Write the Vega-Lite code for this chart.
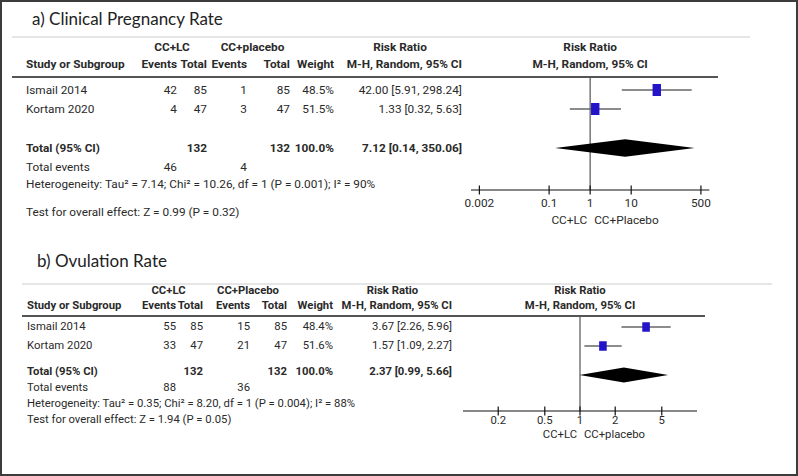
{
"$schema":"https://vega.github.io/schema/vega-lite/v6.json",
"width":798,"height":476,"autosize":{"type":"none"},"padding":0,
"background":"white",
"view":{"stroke":"#3c3c3c","strokeWidth":4,"fill":"white"},
"config":{"text":{"font":"Roboto, Liberation Sans, sans-serif","fontSize":11.8,"color":"#2a2a2a","baseline":"middle"}},
"datasets":{
"cells":[
{"row":0,"col":13,"part":"title","text":"a) Clinical Pregnancy Rate"},
{"row":2,"col":1,"part":"group","text":"CC+LC"},
{"row":2,"col":5,"part":"group","text":"CC+placebo"},
{"row":2,"col":8,"part":"group","text":"Risk Ratio"},
{"row":3,"col":0,"part":"header","text":"Study or Subgroup"},
{"row":3,"col":2,"part":"header","text":"Events"},
{"row":3,"col":3,"part":"header","text":"Total"},
{"row":3,"col":4,"part":"header","text":"Events"},
{"row":3,"col":6,"part":"header","text":"Total"},
{"row":3,"col":7,"part":"header","text":"Weight"},
{"row":3,"col":9,"part":"header","text":"M-H, Random, 95% CI"},
{"row":5,"col":0,"part":"study","text":"Ismail 2014"},
{"row":5,"col":2,"part":"study","text":"42"},
{"row":5,"col":3,"part":"study","text":"85"},
{"row":5,"col":4,"part":"study","text":"1"},
{"row":5,"col":6,"part":"study","text":"85"},
{"row":5,"col":7,"part":"study","text":"48.5%"},
{"row":5,"col":9,"part":"study","text":"42.00 [5.91, 298.24]"},
{"row":6,"col":0,"part":"study","text":"Kortam 2020"},
{"row":6,"col":2,"part":"study","text":"4"},
{"row":6,"col":3,"part":"study","text":"47"},
{"row":6,"col":4,"part":"study","text":"3"},
{"row":6,"col":6,"part":"study","text":"47"},
{"row":6,"col":7,"part":"study","text":"51.5%"},
{"row":6,"col":9,"part":"study","text":"1.33 [0.32, 5.63]"},
{"row":7,"col":0,"part":"total","text":"Total (95% CI)"},
{"row":7,"col":3,"part":"total","text":"132"},
{"row":7,"col":6,"part":"total","text":"132"},
{"row":7,"col":7,"part":"total","text":"100.0%"},
{"row":7,"col":9,"part":"total","text":"7.12 [0.14, 350.06]"},
{"row":8,"col":0,"part":"note","text":"Total events"},
{"row":8,"col":2,"part":"note","text":"46"},
{"row":8,"col":4,"part":"note","text":"4"},
{"row":9,"col":0,"part":"note","text":"Heterogeneity: Tau² = 7.14; Chi² = 10.26, df = 1 (P = 0.001); I² = 90%"},
{"row":12,"col":0,"part":"note","text":"Test for overall effect: Z = 0.99 (P = 0.32)"},
{"row":20,"col":33,"part":"title","text":"b) Ovulation Rate"},
{"row":22,"col":21,"part":"group","text":"CC+LC"},
{"row":22,"col":25,"part":"group","text":"CC+Placebo"},
{"row":22,"col":28,"part":"group","text":"Risk Ratio"},
{"row":23,"col":20,"part":"header","text":"Study or Subgroup"},
{"row":23,"col":22,"part":"header","text":"Events"},
{"row":23,"col":23,"part":"header","text":"Total"},
{"row":23,"col":24,"part":"header","text":"Events"},
{"row":23,"col":26,"part":"header","text":"Total"},
{"row":23,"col":27,"part":"header","text":"Weight"},
{"row":23,"col":29,"part":"header","text":"M-H, Random, 95% CI"},
{"row":25,"col":20,"part":"study","text":"Ismail 2014"},
{"row":25,"col":22,"part":"study","text":"55"},
{"row":25,"col":23,"part":"study","text":"85"},
{"row":25,"col":24,"part":"study","text":"15"},
{"row":25,"col":26,"part":"study","text":"85"},
{"row":25,"col":27,"part":"study","text":"48.4%"},
{"row":25,"col":29,"part":"study","text":"3.67 [2.26, 5.96]"},
{"row":26,"col":20,"part":"study","text":"Kortam 2020"},
{"row":26,"col":22,"part":"study","text":"33"},
{"row":26,"col":23,"part":"study","text":"47"},
{"row":26,"col":24,"part":"study","text":"21"},
{"row":26,"col":26,"part":"study","text":"47"},
{"row":26,"col":27,"part":"study","text":"51.6%"},
{"row":26,"col":29,"part":"study","text":"1.57 [1.09, 2.27]"},
{"row":27,"col":20,"part":"total","text":"Total (95% CI)"},
{"row":27,"col":23,"part":"total","text":"132"},
{"row":27,"col":26,"part":"total","text":"132"},
{"row":27,"col":27,"part":"total","text":"100.0%"},
{"row":27,"col":29,"part":"total","text":"2.37 [0.99, 5.66]"},
{"row":28,"col":20,"part":"note","text":"Total events"},
{"row":28,"col":22,"part":"note","text":"88"},
{"row":28,"col":24,"part":"note","text":"36"},
{"row":29,"col":20,"part":"note","text":"Heterogeneity: Tau² = 0.35; Chi² = 8.20, df = 1 (P = 0.004); I² = 88%"},
{"row":32,"col":20,"part":"note","text":"Test for overall effect: Z = 1.94 (P = 0.05)"}
],
"studies":[
{"panel":"a","study":"Ismail 2014","row":5,"rr":42.00,"lo":5.91,"hi":298.24},
{"panel":"a","study":"Kortam 2020","row":6,"rr":1.33,"lo":0.32,"hi":5.63},
{"panel":"b","study":"Ismail 2014","row":25,"rr":3.67,"lo":2.26,"hi":5.96},
{"panel":"b","study":"Kortam 2020","row":26,"rr":1.57,"lo":1.09,"hi":2.27}
],
"diamondA":[{"rr":0.14,"h":0},{"rr":7.12,"h":1},{"rr":350.06,"h":0}],
"diamondB":[{"rr":0.99,"h":0},{"rr":2.37,"h":1},{"rr":5.66,"h":0}],
"heads":[
{"panel":"a","row":2,"text":"Risk Ratio"},{"panel":"a","row":3,"text":"M-H, Random, 95% CI"},
{"panel":"b","row":22,"text":"Risk Ratio"},{"panel":"b","row":23,"text":"M-H, Random, 95% CI"}
],
"ticks":[
{"panel":"a","v":0.002,"label":"0.002"},{"panel":"a","v":0.1,"label":"0.1"},{"panel":"a","v":1,"label":"1"},{"panel":"a","v":10,"label":"10"},{"panel":"a","v":500,"label":"500"},
{"panel":"b","v":0.2,"label":"0.2"},{"panel":"b","v":0.5,"label":"0.5"},{"panel":"b","v":1,"label":"1"},{"panel":"b","v":2,"label":"2"},{"panel":"b","v":5,"label":"5"}
],
"sides":[
{"panel":"a","side":"left","text":"CC+LC"},{"panel":"a","side":"right","text":"CC+Placebo"},
{"panel":"b","side":"left","text":"CC+LC"},{"panel":"b","side":"right","text":"CC+placebo"}
],
"one":[{}]
},
"resolve":{"scale":{"x":"independent","y":"independent","size":"independent"}},
"layer":[
{"data":{"name":"cells"},"transform":[{"filter":"datum.part=='title'"}],
 "mark":{"type":"text","align":"left","font":"Lato","fontSize":17,"color":"#222"},
 "encoding":{"x":{"field":"col","type":"quantitative","axis":null,"scale":{"type":"linear","nice":false,"zero":false,"domain":[0,1,2,3,4,5,6,7,8,9,10,11,12,13,20,21,22,23,24,25,26,27,28,29,30,31,32,33],"range":[26,172,177,207,247,252.5,290,334,400,462,12,718,750,32,27,168.5,176,203,250,248,287,333,392.5,452,22,705,772,37]}},
  "y":{"field":"row","type":"quantitative","axis":null,"scale":{"type":"linear","nice":false,"zero":false,"domain":[0,1,2,3,4,5,6,7,8,9,10,11,12,13,20,21,22,23,24,25,26,27,28,29,30,31,32,33],"range":[20,37,47,64,77,90,109,148,167,184,190,203,212,220,262,284,291,306,316,327,346,372,388,404,411,421,420,435]}},
  "text":{"field":"text"}}},
{"data":{"name":"cells"},"transform":[{"filter":"datum.part=='group'"}],
 "mark":{"type":"text","align":"center","fontWeight":"bold"},
 "encoding":{"x":{"field":"col","type":"quantitative","axis":null,"scale":{"type":"linear","nice":false,"zero":false,"domain":[0,1,2,3,4,5,6,7,8,9,10,11,12,13,20,21,22,23,24,25,26,27,28,29,30,31,32,33],"range":[26,172,177,207,247,252.5,290,334,400,462,12,718,750,32,27,168.5,176,203,250,248,287,333,392.5,452,22,705,772,37]}},
  "y":{"field":"row","type":"quantitative","axis":null,"scale":{"type":"linear","nice":false,"zero":false,"domain":[0,1,2,3,4,5,6,7,8,9,10,11,12,13,20,21,22,23,24,25,26,27,28,29,30,31,32,33],"range":[20,37,47,64,77,90,109,148,167,184,190,203,212,220,262,284,291,306,316,327,346,372,388,404,411,421,420,435]}},
  "size":{"field":"row","type":"quantitative","legend":null,"scale":{"type":"threshold","domain":[15],"range":[11.8,11.3]}},
  "text":{"field":"text"}}},
{"data":{"name":"cells"},"transform":[{"filter":"(datum.part=='header'||datum.part=='total')&&(datum.col==0||datum.col==20)"}],
 "mark":{"type":"text","align":"left","fontWeight":"bold"},
 "encoding":{"x":{"field":"col","type":"quantitative","axis":null,"scale":{"type":"linear","nice":false,"zero":false,"domain":[0,1,2,3,4,5,6,7,8,9,10,11,12,13,20,21,22,23,24,25,26,27,28,29,30,31,32,33],"range":[26,172,177,207,247,252.5,290,334,400,462,12,718,750,32,27,168.5,176,203,250,248,287,333,392.5,452,22,705,772,37]}},
  "y":{"field":"row","type":"quantitative","axis":null,"scale":{"type":"linear","nice":false,"zero":false,"domain":[0,1,2,3,4,5,6,7,8,9,10,11,12,13,20,21,22,23,24,25,26,27,28,29,30,31,32,33],"range":[20,37,47,64,77,90,109,148,167,184,190,203,212,220,262,284,291,306,316,327,346,372,388,404,411,421,420,435]}},
  "size":{"field":"row","type":"quantitative","legend":null,"scale":{"type":"threshold","domain":[15],"range":[11.8,11.3]}},
  "text":{"field":"text"}}},
{"data":{"name":"cells"},"transform":[{"filter":"(datum.part=='header'||datum.part=='total')&&datum.col!=0&&datum.col!=20"}],
 "mark":{"type":"text","align":"right","fontWeight":"bold"},
 "encoding":{"x":{"field":"col","type":"quantitative","axis":null,"scale":{"type":"linear","nice":false,"zero":false,"domain":[0,1,2,3,4,5,6,7,8,9,10,11,12,13,20,21,22,23,24,25,26,27,28,29,30,31,32,33],"range":[26,172,177,207,247,252.5,290,334,400,462,12,718,750,32,27,168.5,176,203,250,248,287,333,392.5,452,22,705,772,37]}},
  "y":{"field":"row","type":"quantitative","axis":null,"scale":{"type":"linear","nice":false,"zero":false,"domain":[0,1,2,3,4,5,6,7,8,9,10,11,12,13,20,21,22,23,24,25,26,27,28,29,30,31,32,33],"range":[20,37,47,64,77,90,109,148,167,184,190,203,212,220,262,284,291,306,316,327,346,372,388,404,411,421,420,435]}},
  "size":{"field":"row","type":"quantitative","legend":null,"scale":{"type":"threshold","domain":[15],"range":[11.8,11.3]}},
  "text":{"field":"text"}}},
{"data":{"name":"cells"},"transform":[{"filter":"(datum.part=='study'||datum.part=='note')&&(datum.col==0||datum.col==20)"}],
 "mark":{"type":"text","align":"left"},
 "encoding":{"x":{"field":"col","type":"quantitative","axis":null,"scale":{"type":"linear","nice":false,"zero":false,"domain":[0,1,2,3,4,5,6,7,8,9,10,11,12,13,20,21,22,23,24,25,26,27,28,29,30,31,32,33],"range":[26,172,177,207,247,252.5,290,334,400,462,12,718,750,32,27,168.5,176,203,250,248,287,333,392.5,452,22,705,772,37]}},
  "y":{"field":"row","type":"quantitative","axis":null,"scale":{"type":"linear","nice":false,"zero":false,"domain":[0,1,2,3,4,5,6,7,8,9,10,11,12,13,20,21,22,23,24,25,26,27,28,29,30,31,32,33],"range":[20,37,47,64,77,90,109,148,167,184,190,203,212,220,262,284,291,306,316,327,346,372,388,404,411,421,420,435]}},
  "size":{"field":"row","type":"quantitative","legend":null,"scale":{"type":"threshold","domain":[15],"range":[11.8,11.3]}},
  "text":{"field":"text"}}},
{"data":{"name":"cells"},"transform":[{"filter":"(datum.part=='study'||datum.part=='note')&&datum.col!=0&&datum.col!=20"}],
 "mark":{"type":"text","align":"right"},
 "encoding":{"x":{"field":"col","type":"quantitative","axis":null,"scale":{"type":"linear","nice":false,"zero":false,"domain":[0,1,2,3,4,5,6,7,8,9,10,11,12,13,20,21,22,23,24,25,26,27,28,29,30,31,32,33],"range":[26,172,177,207,247,252.5,290,334,400,462,12,718,750,32,27,168.5,176,203,250,248,287,333,392.5,452,22,705,772,37]}},
  "y":{"field":"row","type":"quantitative","axis":null,"scale":{"type":"linear","nice":false,"zero":false,"domain":[0,1,2,3,4,5,6,7,8,9,10,11,12,13,20,21,22,23,24,25,26,27,28,29,30,31,32,33],"range":[20,37,47,64,77,90,109,148,167,184,190,203,212,220,262,284,291,306,316,327,346,372,388,404,411,421,420,435]}},
  "size":{"field":"row","type":"quantitative","legend":null,"scale":{"type":"threshold","domain":[15],"range":[11.8,11.3]}},
  "text":{"field":"text"}}},
{"data":{"name":"one"},"mark":{"type":"rule","color":"#cccccc","strokeWidth":1},
 "encoding":{"x":{"datum":10,"type":"quantitative","axis":null,"scale":{"type":"linear","nice":false,"zero":false,"domain":[0,1,2,3,4,5,6,7,8,9,10,11,12,13,20,21,22,23,24,25,26,27,28,29,30,31,32,33],"range":[26,172,177,207,247,252.5,290,334,400,462,12,718,750,32,27,168.5,176,203,250,248,287,333,392.5,452,22,705,772,37]}},"x2":{"datum":12},
  "y":{"datum":1,"type":"quantitative","axis":null,"scale":{"type":"linear","nice":false,"zero":false,"domain":[0,1,2,3,4,5,6,7,8,9,10,11,12,13,20,21,22,23,24,25,26,27,28,29,30,31,32,33],"range":[20,37,47,64,77,90,109,148,167,184,190,203,212,220,262,284,291,306,316,327,346,372,388,404,411,421,420,435]}}}},
{"data":{"name":"one"},"mark":{"type":"rule","color":"#555555","strokeWidth":2},
 "encoding":{"x":{"datum":10,"type":"quantitative","axis":null,"scale":{"type":"linear","nice":false,"zero":false,"domain":[0,1,2,3,4,5,6,7,8,9,10,11,12,13,20,21,22,23,24,25,26,27,28,29,30,31,32,33],"range":[26,172,177,207,247,252.5,290,334,400,462,12,718,750,32,27,168.5,176,203,250,248,287,333,392.5,452,22,705,772,37]}},"x2":{"datum":11},
  "y":{"datum":4,"type":"quantitative","axis":null,"scale":{"type":"linear","nice":false,"zero":false,"domain":[0,1,2,3,4,5,6,7,8,9,10,11,12,13,20,21,22,23,24,25,26,27,28,29,30,31,32,33],"range":[20,37,47,64,77,90,109,148,167,184,190,203,212,220,262,284,291,306,316,327,346,372,388,404,411,421,420,435]}}}},
{"data":{"name":"one"},"mark":{"type":"rule","color":"#cccccc","strokeWidth":1},
 "encoding":{"x":{"datum":30,"type":"quantitative","axis":null,"scale":{"type":"linear","nice":false,"zero":false,"domain":[0,1,2,3,4,5,6,7,8,9,10,11,12,13,20,21,22,23,24,25,26,27,28,29,30,31,32,33],"range":[26,172,177,207,247,252.5,290,334,400,462,12,718,750,32,27,168.5,176,203,250,248,287,333,392.5,452,22,705,772,37]}},"x2":{"datum":32},
  "y":{"datum":21,"type":"quantitative","axis":null,"scale":{"type":"linear","nice":false,"zero":false,"domain":[0,1,2,3,4,5,6,7,8,9,10,11,12,13,20,21,22,23,24,25,26,27,28,29,30,31,32,33],"range":[20,37,47,64,77,90,109,148,167,184,190,203,212,220,262,284,291,306,316,327,346,372,388,404,411,421,420,435]}}}},
{"data":{"name":"one"},"mark":{"type":"rule","color":"#555555","strokeWidth":2},
 "encoding":{"x":{"datum":30,"type":"quantitative","axis":null,"scale":{"type":"linear","nice":false,"zero":false,"domain":[0,1,2,3,4,5,6,7,8,9,10,11,12,13,20,21,22,23,24,25,26,27,28,29,30,31,32,33],"range":[26,172,177,207,247,252.5,290,334,400,462,12,718,750,32,27,168.5,176,203,250,248,287,333,392.5,452,22,705,772,37]}},"x2":{"datum":31},
  "y":{"datum":24,"type":"quantitative","axis":null,"scale":{"type":"linear","nice":false,"zero":false,"domain":[0,1,2,3,4,5,6,7,8,9,10,11,12,13,20,21,22,23,24,25,26,27,28,29,30,31,32,33],"range":[20,37,47,64,77,90,109,148,167,184,190,203,212,220,262,284,291,306,316,327,346,372,388,404,411,421,420,435]}}}},

{"data":{"name":"one"},"mark":{"type":"rule","color":"#555555","strokeWidth":1.2},
 "encoding":{"x":{"datum":1,"type":"quantitative","axis":null,"scale":{"type":"log","nice":false,"domain":[0.00125,800],"range":[471,709.3]}},
  "y":{"datum":4,"type":"quantitative","axis":null,"scale":{"type":"linear","nice":false,"zero":false,"domain":[0,1,2,3,4,5,6,7,8,9,10,11,12,13,20,21,22,23,24,25,26,27,28,29,30,31,32,33],"range":[20,37,47,64,77,90,109,148,167,184,190,203,212,220,262,284,291,306,316,327,346,372,388,404,411,421,420,435]}},"y2":{"datum":10}}},
{"data":{"name":"studies"},"transform":[{"filter":"datum.panel=='a'"}],"mark":{"type":"rule","color":"#666666","strokeWidth":1.3},
 "encoding":{"x":{"field":"lo","type":"quantitative","axis":null,"scale":{"type":"log","nice":false,"domain":[0.00125,800],"range":[471,709.3]}},"x2":{"field":"hi"},
  "y":{"field":"row","type":"quantitative","axis":null,"scale":{"type":"linear","nice":false,"zero":false,"domain":[0,1,2,3,4,5,6,7,8,9,10,11,12,13,20,21,22,23,24,25,26,27,28,29,30,31,32,33],"range":[20,37,47,64,77,90,109,148,167,184,190,203,212,220,262,284,291,306,316,327,346,372,388,404,411,421,420,435]}}}},
{"data":{"name":"studies"},"transform":[{"filter":"datum.panel=='a'"}],"mark":{"type":"point","filled":true,"opacity":1,"color":"#2414c8","shape":"M-0.7,-1L0.7,-1L0.7,1L-0.7,1Z","size":144},
 "encoding":{"x":{"field":"rr","type":"quantitative","axis":null,"scale":{"type":"log","nice":false,"domain":[0.00125,800],"range":[471,709.3]}},
  "y":{"field":"row","type":"quantitative","axis":null,"scale":{"type":"linear","nice":false,"zero":false,"domain":[0,1,2,3,4,5,6,7,8,9,10,11,12,13,20,21,22,23,24,25,26,27,28,29,30,31,32,33],"range":[20,37,47,64,77,90,109,148,167,184,190,203,212,220,262,284,291,306,316,327,346,372,388,404,411,421,420,435]}}}},
{"data":{"name":"diamondA"},"mark":{"type":"area","color":"#000000","opacity":1},
 "encoding":{"x":{"field":"rr","type":"quantitative","axis":null,"scale":{"type":"log","nice":false,"domain":[0.00125,800],"range":[471,709.3]}},
  "y":{"field":"h","type":"quantitative","axis":null,"stack":null,"scale":{"type":"linear","nice":false,"zero":false,"domain":[0,1],"range":[148,139.2]}},"y2":{"datum":0}}},
{"data":{"name":"diamondA"},"mark":{"type":"area","color":"#000000","opacity":1},
 "encoding":{"x":{"field":"rr","type":"quantitative","axis":null,"scale":{"type":"log","nice":false,"domain":[0.00125,800],"range":[471,709.3]}},
  "y":{"field":"h","type":"quantitative","axis":null,"stack":null,"scale":{"type":"linear","nice":false,"zero":false,"domain":[0,1],"range":[148,156.8]}},"y2":{"datum":0}}},
{"data":{"name":"heads"},"transform":[{"filter":"datum.panel=='a'"}],
 "mark":{"type":"text","align":"center","fontWeight":"bold"},
 "encoding":{"x":{"datum":1,"type":"quantitative","axis":null,"scale":{"type":"log","nice":false,"domain":[0.00125,800],"range":[471,709.3]}},
  "y":{"field":"row","type":"quantitative","axis":null,"scale":{"type":"linear","nice":false,"zero":false,"domain":[0,1,2,3,4,5,6,7,8,9,10,11,12,13,20,21,22,23,24,25,26,27,28,29,30,31,32,33],"range":[20,37,47,64,77,90,109,148,167,184,190,203,212,220,262,284,291,306,316,327,346,372,388,404,411,421,420,435]}},
  "text":{"field":"text"}}},
{"data":{"name":"one"},"mark":{"type":"rule","color":"#111111","strokeWidth":1.2},
 "encoding":{"x":{"datum":0.00125,"type":"quantitative","axis":null,"scale":{"type":"log","nice":false,"domain":[0.00125,800],"range":[471,709.3]}},"x2":{"datum":800},
  "y":{"datum":10,"type":"quantitative","axis":null,"scale":{"type":"linear","nice":false,"zero":false,"domain":[0,1,2,3,4,5,6,7,8,9,10,11,12,13,20,21,22,23,24,25,26,27,28,29,30,31,32,33],"range":[20,37,47,64,77,90,109,148,167,184,190,203,212,220,262,284,291,306,316,327,346,372,388,404,411,421,420,435]}}}},
{"data":{"name":"ticks"},"transform":[{"filter":"datum.panel=='a'"}],"mark":{"type":"tick","orient":"vertical","size":9,"thickness":1.2,"color":"#111111","opacity":1},
 "encoding":{"x":{"field":"v","type":"quantitative","axis":null,"scale":{"type":"log","nice":false,"domain":[0.00125,800],"range":[471,709.3]}},
  "y":{"datum":10,"type":"quantitative","axis":null,"scale":{"type":"linear","nice":false,"zero":false,"domain":[0,1,2,3,4,5,6,7,8,9,10,11,12,13,20,21,22,23,24,25,26,27,28,29,30,31,32,33],"range":[20,37,47,64,77,90,109,148,167,184,190,203,212,220,262,284,291,306,316,327,346,372,388,404,411,421,420,435]}}}},
{"data":{"name":"ticks"},"transform":[{"filter":"datum.panel=='a'"}],
 "mark":{"type":"text","align":"center"},
 "encoding":{"x":{"field":"v","type":"quantitative","axis":null,"scale":{"type":"log","nice":false,"domain":[0.00125,800],"range":[471,709.3]}},
  "y":{"datum":11,"type":"quantitative","axis":null,"scale":{"type":"linear","nice":false,"zero":false,"domain":[0,1,2,3,4,5,6,7,8,9,10,11,12,13,20,21,22,23,24,25,26,27,28,29,30,31,32,33],"range":[20,37,47,64,77,90,109,148,167,184,190,203,212,220,262,284,291,306,316,327,346,372,388,404,411,421,420,435]}},
  "text":{"field":"label"}}},
{"data":{"name":"sides"},"transform":[{"filter":"datum.panel=='a'&&datum.side=='left'"}],
 "mark":{"type":"text","align":"right","dx":-3},
 "encoding":{"x":{"datum":1,"type":"quantitative","axis":null,"scale":{"type":"log","nice":false,"domain":[0.00125,800],"range":[471,709.3]}},
  "y":{"datum":13,"type":"quantitative","axis":null,"scale":{"type":"linear","nice":false,"zero":false,"domain":[0,1,2,3,4,5,6,7,8,9,10,11,12,13,20,21,22,23,24,25,26,27,28,29,30,31,32,33],"range":[20,37,47,64,77,90,109,148,167,184,190,203,212,220,262,284,291,306,316,327,346,372,388,404,411,421,420,435]}},
  "text":{"field":"text"}}},
{"data":{"name":"sides"},"transform":[{"filter":"datum.panel=='a'&&datum.side=='right'"}],
 "mark":{"type":"text","align":"left","dx":4},
 "encoding":{"x":{"datum":1,"type":"quantitative","axis":null,"scale":{"type":"log","nice":false,"domain":[0.00125,800],"range":[471,709.3]}},
  "y":{"datum":13,"type":"quantitative","axis":null,"scale":{"type":"linear","nice":false,"zero":false,"domain":[0,1,2,3,4,5,6,7,8,9,10,11,12,13,20,21,22,23,24,25,26,27,28,29,30,31,32,33],"range":[20,37,47,64,77,90,109,148,167,184,190,203,212,220,262,284,291,306,316,327,346,372,388,404,411,421,420,435]}},
  "text":{"field":"text"}}},

{"data":{"name":"one"},"mark":{"type":"rule","color":"#555555","strokeWidth":1.2},
 "encoding":{"x":{"datum":1,"type":"quantitative","axis":null,"scale":{"type":"log","nice":false,"domain":[0.1,10],"range":[463,697]}},
  "y":{"datum":24,"type":"quantitative","axis":null,"scale":{"type":"linear","nice":false,"zero":false,"domain":[0,1,2,3,4,5,6,7,8,9,10,11,12,13,20,21,22,23,24,25,26,27,28,29,30,31,32,33],"range":[20,37,47,64,77,90,109,148,167,184,190,203,212,220,262,284,291,306,316,327,346,372,388,404,411,421,420,435]}},"y2":{"datum":30}}},
{"data":{"name":"studies"},"transform":[{"filter":"datum.panel=='b'"}],"mark":{"type":"rule","color":"#666666","strokeWidth":1.3},
 "encoding":{"x":{"field":"lo","type":"quantitative","axis":null,"scale":{"type":"log","nice":false,"domain":[0.1,10],"range":[463,697]}},"x2":{"field":"hi"},
  "y":{"field":"row","type":"quantitative","axis":null,"scale":{"type":"linear","nice":false,"zero":false,"domain":[0,1,2,3,4,5,6,7,8,9,10,11,12,13,20,21,22,23,24,25,26,27,28,29,30,31,32,33],"range":[20,37,47,64,77,90,109,148,167,184,190,203,212,220,262,284,291,306,316,327,346,372,388,404,411,421,420,435]}}}},
{"data":{"name":"studies"},"transform":[{"filter":"datum.panel=='b'"}],"mark":{"type":"point","filled":true,"opacity":1,"color":"#2414c8","shape":"M-0.8,-1L0.8,-1L0.8,1L-0.8,1Z","size":90},
 "encoding":{"x":{"field":"rr","type":"quantitative","axis":null,"scale":{"type":"log","nice":false,"domain":[0.1,10],"range":[463,697]}},
  "y":{"field":"row","type":"quantitative","axis":null,"scale":{"type":"linear","nice":false,"zero":false,"domain":[0,1,2,3,4,5,6,7,8,9,10,11,12,13,20,21,22,23,24,25,26,27,28,29,30,31,32,33],"range":[20,37,47,64,77,90,109,148,167,184,190,203,212,220,262,284,291,306,316,327,346,372,388,404,411,421,420,435]}}}},
{"data":{"name":"diamondB"},"mark":{"type":"area","color":"#000000","opacity":1},
 "encoding":{"x":{"field":"rr","type":"quantitative","axis":null,"scale":{"type":"log","nice":false,"domain":[0.1,10],"range":[463,697]}},
  "y":{"field":"h","type":"quantitative","axis":null,"stack":null,"scale":{"type":"linear","nice":false,"zero":false,"domain":[0,1],"range":[375,367.5]}},"y2":{"datum":0}}},
{"data":{"name":"diamondB"},"mark":{"type":"area","color":"#000000","opacity":1},
 "encoding":{"x":{"field":"rr","type":"quantitative","axis":null,"scale":{"type":"log","nice":false,"domain":[0.1,10],"range":[463,697]}},
  "y":{"field":"h","type":"quantitative","axis":null,"stack":null,"scale":{"type":"linear","nice":false,"zero":false,"domain":[0,1],"range":[375,382.5]}},"y2":{"datum":0}}},
{"data":{"name":"heads"},"transform":[{"filter":"datum.panel=='b'"}],
 "mark":{"type":"text","align":"center","fontWeight":"bold","fontSize":11.3},
 "encoding":{"x":{"datum":1,"type":"quantitative","axis":null,"scale":{"type":"log","nice":false,"domain":[0.1,10],"range":[463,697]}},
  "y":{"field":"row","type":"quantitative","axis":null,"scale":{"type":"linear","nice":false,"zero":false,"domain":[0,1,2,3,4,5,6,7,8,9,10,11,12,13,20,21,22,23,24,25,26,27,28,29,30,31,32,33],"range":[20,37,47,64,77,90,109,148,167,184,190,203,212,220,262,284,291,306,316,327,346,372,388,404,411,421,420,435]}},
  "text":{"field":"text"}}},
{"data":{"name":"one"},"mark":{"type":"rule","color":"#111111","strokeWidth":1.2},
 "encoding":{"x":{"datum":0.1,"type":"quantitative","axis":null,"scale":{"type":"log","nice":false,"domain":[0.1,10],"range":[463,697]}},"x2":{"datum":10},
  "y":{"datum":30,"type":"quantitative","axis":null,"scale":{"type":"linear","nice":false,"zero":false,"domain":[0,1,2,3,4,5,6,7,8,9,10,11,12,13,20,21,22,23,24,25,26,27,28,29,30,31,32,33],"range":[20,37,47,64,77,90,109,148,167,184,190,203,212,220,262,284,291,306,316,327,346,372,388,404,411,421,420,435]}}}},
{"data":{"name":"ticks"},"transform":[{"filter":"datum.panel=='b'"}],"mark":{"type":"tick","orient":"vertical","size":9,"thickness":1.2,"color":"#111111","opacity":1},
 "encoding":{"x":{"field":"v","type":"quantitative","axis":null,"scale":{"type":"log","nice":false,"domain":[0.1,10],"range":[463,697]}},
  "y":{"datum":30,"type":"quantitative","axis":null,"scale":{"type":"linear","nice":false,"zero":false,"domain":[0,1,2,3,4,5,6,7,8,9,10,11,12,13,20,21,22,23,24,25,26,27,28,29,30,31,32,33],"range":[20,37,47,64,77,90,109,148,167,184,190,203,212,220,262,284,291,306,316,327,346,372,388,404,411,421,420,435]}}}},
{"data":{"name":"ticks"},"transform":[{"filter":"datum.panel=='b'"}],
 "mark":{"type":"text","align":"center","fontSize":11.3},
 "encoding":{"x":{"field":"v","type":"quantitative","axis":null,"scale":{"type":"log","nice":false,"domain":[0.1,10],"range":[463,697]}},
  "y":{"datum":31,"type":"quantitative","axis":null,"scale":{"type":"linear","nice":false,"zero":false,"domain":[0,1,2,3,4,5,6,7,8,9,10,11,12,13,20,21,22,23,24,25,26,27,28,29,30,31,32,33],"range":[20,37,47,64,77,90,109,148,167,184,190,203,212,220,262,284,291,306,316,327,346,372,388,404,411,421,420,435]}},
  "text":{"field":"label"}}},
{"data":{"name":"sides"},"transform":[{"filter":"datum.panel=='b'&&datum.side=='left'"}],
 "mark":{"type":"text","align":"right","dx":-3,"fontSize":11.3},
 "encoding":{"x":{"datum":1,"type":"quantitative","axis":null,"scale":{"type":"log","nice":false,"domain":[0.1,10],"range":[463,697]}},
  "y":{"datum":33,"type":"quantitative","axis":null,"scale":{"type":"linear","nice":false,"zero":false,"domain":[0,1,2,3,4,5,6,7,8,9,10,11,12,13,20,21,22,23,24,25,26,27,28,29,30,31,32,33],"range":[20,37,47,64,77,90,109,148,167,184,190,203,212,220,262,284,291,306,316,327,346,372,388,404,411,421,420,435]}},
  "text":{"field":"text"}}},
{"data":{"name":"sides"},"transform":[{"filter":"datum.panel=='b'&&datum.side=='right'"}],
 "mark":{"type":"text","align":"left","dx":4,"fontSize":11.3},
 "encoding":{"x":{"datum":1,"type":"quantitative","axis":null,"scale":{"type":"log","nice":false,"domain":[0.1,10],"range":[463,697]}},
  "y":{"datum":33,"type":"quantitative","axis":null,"scale":{"type":"linear","nice":false,"zero":false,"domain":[0,1,2,3,4,5,6,7,8,9,10,11,12,13,20,21,22,23,24,25,26,27,28,29,30,31,32,33],"range":[20,37,47,64,77,90,109,148,167,184,190,203,212,220,262,284,291,306,316,327,346,372,388,404,411,421,420,435]}},
  "text":{"field":"text"}}}
]
}
